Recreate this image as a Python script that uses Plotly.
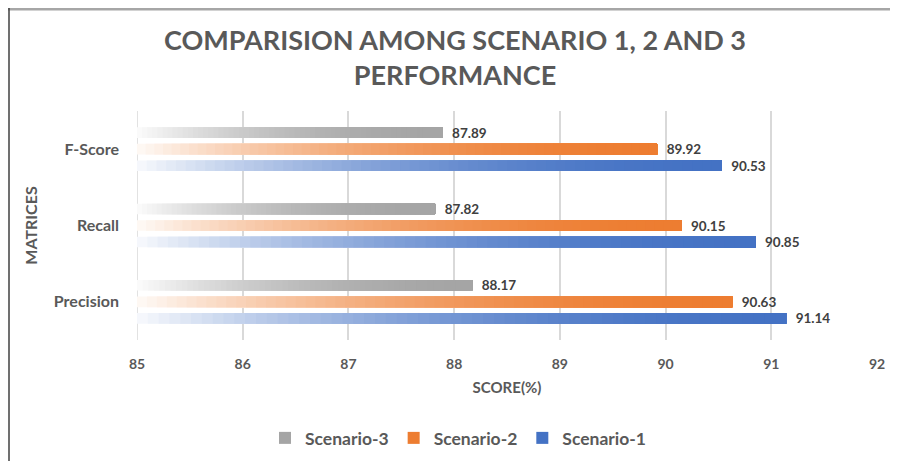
import plotly.graph_objects as go

categories = ["Precision", "Recall", "F-Score"]
scenario1 = [91.14, 90.85, 90.53]
scenario2 = [90.63, 90.15, 89.92]
scenario3 = [88.17, 87.82, 87.89]
x_ticks = [85, 86, 87, 88, 89, 90, 91, 92]

series = [
    ("Scenario-1", scenario1, (68, 114, 196), 3),
    ("Scenario-2", scenario2, (237, 125, 49), 2),
    ("Scenario-3", scenario3, (165, 165, 165), 1),
]

AXIS_MIN = 85
N = 60
fig = go.Figure()

def blend(c, f):
    return "rgb(%d,%d,%d)" % tuple(round(255 + (ci - 255) * f) for ci in c)

for name, vals, col, rank in series:
    for i in range(N):
        t = (i + 0.5) / N
        f = 0.04 + 0.96 * (1 - (1 - t) ** 2.0)
        # each gradient layer starts further right and runs to the bar end
        bases = [AXIS_MIN + (v - AXIS_MIN) * i / N for v in vals]
        lengths = [v - b for v, b in zip(vals, bases)]
        last = i == N - 1
        fig.add_trace(go.Bar(
            y=categories, x=lengths, base=bases, orientation="h",
            offsetgroup=name, legendgroup=name, name=name,
            showlegend=last, legendrank=rank,
            marker=dict(color=blend(col, f), line=dict(width=0)),
            text=["\u00a0\u00a0%.2f" % v for v in vals] if last else None,
            textposition="outside" if last else None,
            constraintext="none",
            textfont=dict(family="Lato", size=13.5, color="#404040", weight="bold"),
            cliponaxis=False, hoverinfo="skip",
        ))

# page body adds an 8px offset; figure coords = screen coords - 8
W, H = 890, 453
L, R, T, B = 129, 21, 103, 121
pw, ph = W - L - R, H - T - B

fig.update_layout(
    width=W, height=H,
    margin=dict(l=L, r=R, t=T, b=B, autoexpand=False),
    barmode="group", bargap=0.35, bargroupgap=0.36,
    plot_bgcolor="white", paper_bgcolor="white",
    title=dict(
        text="COMPARISION AMONG SCENARIO 1, 2 AND 3<br>PERFORMANCE",
        x=(447 - L) / pw, xref="paper", xanchor="center", y=0.908, yanchor="middle",
        font=dict(family="Lato", size=27, color="#595959", weight="bold"),
    ),
    xaxis=dict(
        range=[AXIS_MIN, 92], tickvals=x_ticks, showgrid=True, automargin=False,
        gridcolor="#d9d9d9", gridwidth=1.5, zeroline=False,
        tickfont=dict(family="Lato", size=14, color="#595959", weight="bold"),
        ticks="", ticklabelstandoff=14,
        title=dict(text="SCORE(%)", standoff=11,
                   font=dict(family="Lato", size=15, color="#595959", weight="bold")),
        showline=False,
    ),
    yaxis=dict(
        categoryorder="array", categoryarray=categories, automargin=False,
        tickfont=dict(family="Lato", size=16, color="#595959", weight="bold"),
        ticks="", ticklabelstandoff=17, showgrid=False, showline=False,
        title=dict(text="MATRICES", standoff=12,
                   font=dict(family="Lato", size=16, color="#595959", weight="bold")),
    ),
    legend=dict(
        orientation="h", x=(450 - L) / pw, xanchor="center", y=(H - B - 430) / ph,
        yanchor="middle", traceorder="normal",
        font=dict(family="Lato", size=17.5, color="#595959", weight="bold"),
        itemwidth=30,
    ),
    shapes=[
        dict(type="line", xref="paper", yref="paper",
             x0=(0 - L) / pw, x1=(W - L) / pw, y0=(H - B - 1) / ph, y1=(H - B - 1) / ph,
             line=dict(color="#a6a6a6", width=3)),
        dict(type="line", xref="paper", yref="paper",
             x0=(1 - L) / pw, x1=(1 - L) / pw, y0=(H - B) / ph, y1=(H - B - H) / ph,
             line=dict(color="#404040", width=1.5)),
        dict(type="line", xref="x", yref="paper", x0=AXIS_MIN, x1=AXIS_MIN, y0=0, y1=1,
             line=dict(color="#d9d9d9", width=1.5), layer="below"),
    ],
)

fig.write_html("out.html")
